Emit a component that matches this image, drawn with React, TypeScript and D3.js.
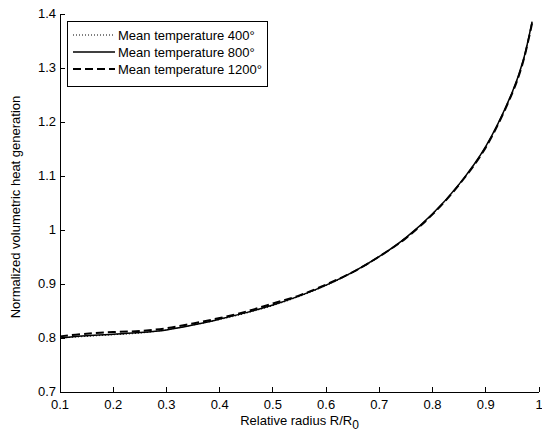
import React from "react";
import * as d3 from "d3";

const radius = [0.1, 0.15, 0.2, 0.25, 0.3, 0.35, 0.4, 0.45, 0.5, 0.55, 0.6, 0.65, 0.7, 0.75, 0.8, 0.85, 0.9, 0.95, 0.97, 0.987];
const heat400 = [0.800, 0.803, 0.806, 0.809, 0.815, 0.824, 0.834, 0.846, 0.860, 0.877, 0.897, 0.921, 0.950, 0.985, 1.029, 1.084, 1.154, 1.255, 1.312, 1.385];
const heat800 = [0.800, 0.804, 0.807, 0.810, 0.815, 0.824, 0.835, 0.847, 0.861, 0.878, 0.898, 0.922, 0.951, 0.986, 1.030, 1.085, 1.155, 1.256, 1.313, 1.386];
const heat1200 = [0.803, 0.808, 0.811, 0.813, 0.818, 0.827, 0.837, 0.849, 0.864, 0.879, 0.899, 0.922, 0.951, 0.985, 1.029, 1.084, 1.153, 1.254, 1.311, 1.383];
const seriesNames = ["Mean temperature 400°", "Mean temperature 800°", "Mean temperature 1200°"];
const xTicks = [0.1, 0.2, 0.3, 0.4, 0.5, 0.6, 0.7, 0.8, 0.9, 1];
const yTicks = [0.7, 0.8, 0.9, 1, 1.1, 1.2, 1.3, 1.4];

const W = 542, H = 434;
const L = 60, R = 539, T = 14, B = 392;
const font = "Liberation Sans, Arial, Helvetica, sans-serif";

export default function App() {
  const x = d3.scaleLinear().domain([0.1, 1]).range([L, R]);
  const y = d3.scaleLinear().domain([0.7, 1.4]).range([B, T]);
  const line = d3.line<number>().x((_, i) => x(radius[i])).y((d) => y(d)).curve(d3.curveCatmullRom.alpha(0.5));
  const styles = [
    { dash: "1,2", width: 1 },
    { dash: "none", width: 1.5 },
    { dash: "8,4", width: 2 },
  ];
  const data = [heat400, heat800, heat1200];
  return (
    <svg width={W} height={H} style={{ position: "absolute", left: 0, top: 0, background: "#fff" }} fontFamily={font}>
      <rect x={0} y={0} width={W} height={H} fill="#fff" />
      <line x1={L} y1={B} x2={R} y2={B} stroke="#000" strokeWidth={1} shapeRendering="crispEdges" />
      <line x1={L} y1={B} x2={L} y2={T} stroke="#000" strokeWidth={1} shapeRendering="crispEdges" />
      {xTicks.map((t) => (
        <g key={"x" + t}>
          <line x1={x(t)} x2={x(t)} y1={B} y2={B - 5} stroke="#000" shapeRendering="crispEdges" />
          <text x={x(t)} y={409} fontSize={13} textAnchor="middle" fill="#000">{String(t)}</text>
        </g>
      ))}
      {yTicks.map((t) => (
        <g key={"y" + t}>
          <line x1={L} x2={L + 5} y1={y(t)} y2={y(t)} stroke="#000" shapeRendering="crispEdges" />
          <text x={56} y={y(t) + 4} fontSize={13} textAnchor="end" fill="#000">{String(t)}</text>
        </g>
      ))}
      <text x={(L + R) / 2} y={425} fontSize={13} textAnchor="middle" fill="#000">
        Relative radius R/R<tspan fontSize={12} dy={4}>0</tspan>
      </text>
      <text transform={`translate(20,${(T + B) / 2 + 4}) rotate(-90)`} fontSize={13} textAnchor="middle" fill="#000">
        Normalized volumetric heat generation
      </text>
      {data.map((d, i) => (
        <path key={i} d={line(d) || ""} fill="none" stroke="#000" strokeWidth={styles[i].width} strokeDasharray={styles[i].dash} />
      ))}
      <rect x={67.5} y={21.5} width={200} height={65} fill="#fff" stroke="#000" strokeWidth={1} shapeRendering="crispEdges" />
      {seriesNames.map((n, i) => {
        const yy = 35 + i * 17;
        return (
          <g key={n}>
            <line x1={73} x2={115} y1={yy} y2={yy} stroke="#000" strokeWidth={styles[i].width} strokeDasharray={styles[i].dash} />
            <text x={118} y={yy + 4.5} fontSize={13} fill="#000">{n}</text>
          </g>
        );
      })}
    </svg>
  );
}
